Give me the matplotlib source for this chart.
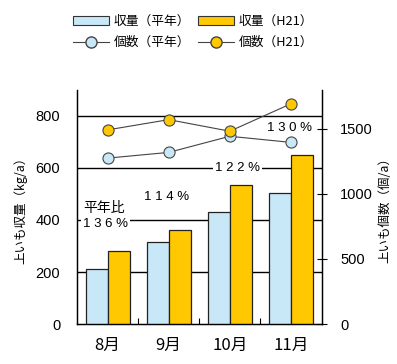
import matplotlib
matplotlib.use('Agg')
import matplotlib.pyplot as plt
from matplotlib.patches import Patch
from matplotlib.lines import Line2D
import numpy as np

plt.rcParams['font.family'] = ['Noto Sans CJK JP', 'DejaVu Sans']

months = ['8月', '9月', '10月', '11月']
yield_avg = [210, 316, 430, 503]
yield_h21 = [280, 363, 533, 651]
count_avg = [1276, 1320, 1444, 1397]
count_h21 = [1493, 1572, 1483, 1694]
ratio_labels = ['1 3 6 %', '1 1 4 %', '1 2 2 %', '1 3 0 %']

c_avg = '#c8e8f8'
c_h21 = '#ffc800'
num_font = ['Liberation Sans', 'DejaVu Sans']

fig = plt.figure(figsize=(3.97, 3.64), dpi=100)
ax = fig.add_axes([77/397, 1-324/364, (321.5-77)/397, (324-90)/364])
ax2 = ax.twinx()

x = np.arange(len(months))
w = 0.36

for v in [200, 400, 600, 800]:
    ax.axhline(v, color='black', lw=1.0, zorder=1)

ax.bar(x - w/2, yield_avg, w, color=c_avg, edgecolor='#222222', lw=0.9, zorder=3)
ax.bar(x + w/2, yield_h21, w, color=c_h21, edgecolor='#222222', lw=0.9, zorder=3)

ax.set_xlim(-0.5, 3.5)
ax.set_ylim(0, 900)
ax.set_yticks([0, 200, 400, 600, 800])
ax.set_xticks(x)
ax.set_xticklabels(months, fontsize=12)
ax.set_xticks([0.5, 1.5, 2.5], minor=True)
ax.tick_params(axis='x', which='major', length=0, pad=9)
ax.tick_params(axis='x', which='minor', direction='in', length=4, width=0.8)
ax.tick_params(axis='y', length=0, pad=12)
for t in ax.get_yticklabels():
    t.set_fontfamily(num_font)
    t.set_fontsize(10.5)
ax.set_ylabel('上いも収量（kg/a）', fontsize=9, labelpad=6)

ax2.plot(x, count_avg, '-o', color='#444444', lw=0.8, ms=8,
         mfc=c_avg, mec='#444444', mew=0.8, zorder=5)
ax2.plot(x, count_h21, '-o', color='#444444', lw=0.8, ms=8,
         mfc=c_h21, mec='#444444', mew=0.8, zorder=5)
ax2.set_ylim(0, 1800)
ax2.set_yticks([0, 500, 1000, 1500])
ax2.tick_params(axis='y', direction='inout', length=7, width=0.8, pad=10)
for t in ax2.get_yticklabels():
    t.set_fontfamily(num_font)
    t.set_fontsize(10.5)
ax2.set_ylabel('上いも個数（個/a）', fontsize=9, labelpad=4)

for a in (ax, ax2):
    a.spines['top'].set_visible(False)
    for s in ['left', 'right', 'bottom']:
        a.spines[s].set_linewidth(0.9)
ax.set_zorder(ax2.get_zorder() - 1)
ax.patch.set_visible(True)
ax2.patch.set_visible(False)

box = dict(facecolor='white', edgecolor='none', pad=1.5)
ax.text(-0.4, 446, '平年比', fontsize=10, ha='left', va='center',
        bbox=box, zorder=4)
ax.text(-0.4, 385, ratio_labels[0], fontsize=9.5, family=num_font,
        ha='left', va='center', bbox=box, zorder=4)
ax.text(0.96, 487, ratio_labels[1], fontsize=9.5, family=num_font,
        ha='center', va='center', bbox=box, zorder=4)
ax.text(2.13, 600, ratio_labels[2], fontsize=9.5, family=num_font,
        ha='center', va='center', bbox=box, zorder=4)
ax2.text(2.98, 1510, ratio_labels[3], fontsize=9.5, family=num_font,
         ha='center', va='center', zorder=4)

handles = [
    Patch(facecolor=c_avg, edgecolor='#333333', lw=0.8),
    Line2D([0], [0], color='#444444', lw=0.8, marker='o', ms=8, mfc=c_avg, mec='#444444'),
    Patch(facecolor=c_h21, edgecolor='#333333', lw=0.8),
    Line2D([0], [0], color='#444444', lw=0.8, marker='o', ms=8, mfc=c_h21, mec='#444444'),
]
labels = ['収量（平年）', '個数（平年）', '収量（H21）', '個数（H21）']
fig.legend(handles, labels, ncol=2, loc='upper left',
           bbox_to_anchor=(64/397, 1-6/364), frameon=False, fontsize=9.2,
           handlelength=2.8, handleheight=0.7, handletextpad=0.4,
           columnspacing=0.6, labelspacing=0.65, borderpad=0.2)

fig.savefig('out.png', dpi=100)
